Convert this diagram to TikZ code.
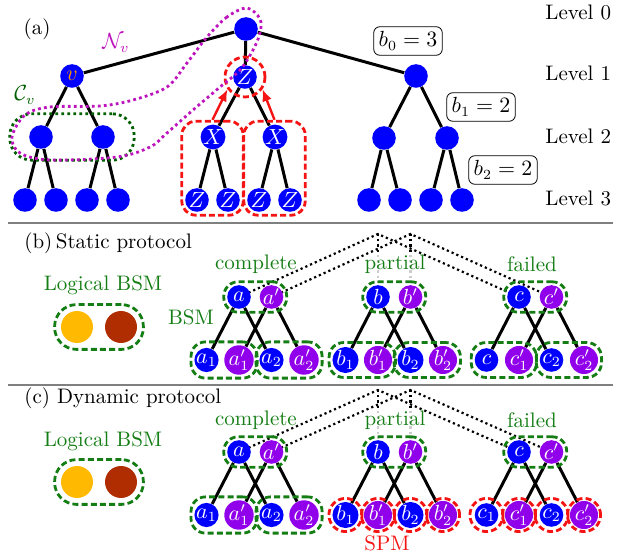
\documentclass[tikz,border=0pt]{standalone}
\usetikzlibrary{arrows.meta,fit,calc,backgrounds}
\definecolor{nblue}{RGB}{0,0,255}
\definecolor{npurp}{RGB}{145,0,235}
\definecolor{ggreen}{RGB}{20,125,20}
\definecolor{cvgreen}{RGB}{0,95,0}
\definecolor{nvmag}{RGB}{190,20,190}
\definecolor{rred}{RGB}{245,20,20}
\definecolor{lorange}{RGB}{255,185,0}
\definecolor{lbrown}{RGB}{175,45,0}
\definecolor{vorange}{RGB}{255,150,0}
\tikzset{
  bnode/.style={circle, fill=nblue, minimum size=11.8pt, inner sep=0pt, text=white},
  pnode/.style={bnode, fill=npurp},
  edge/.style={line width=1.5pt, black},
  gbox/.style={draw=ggreen, line width=1.4pt, dash pattern=on 3pt off 1.6pt, rounded corners=7.2pt, inner sep=1.5pt},
  rbox/.style={draw=rred, line width=1.4pt, dash pattern=on 3pt off 1.6pt},
  roof/.style={line width=1.1pt, dash pattern=on 1.1pt off 1.5pt},
  lbl/.style={text=ggreen, inner sep=0pt},
  txt/.style={inner sep=0pt},
  bval/.style={draw, rounded corners=3pt, inner sep=2.5pt, line width=0.4pt},
  redarrow/.style={rred, line width=1.2pt, -{Latex[length=6pt,width=5pt]}},
}
\newcommand\bsmtree[9]{%
  \node[bnode] (#1t) at (#2+32.5,#3) {$#4$};
  \node[pnode] (#1tp) at (#2+65,#3) {$#5$};
  \node[bnode] (#1b1) at (#2,#3+63) {$#6$};
  \node[pnode] (#1b1p) at (#2+32.5,#3+63) {$#7$};
  \node[bnode] (#1b2) at (#2+65,#3+63) {$#8$};
  \node[pnode] (#1b2p) at (#2+97.5,#3+63) {$#9$};
  \draw[edge] (#1t) -- (#1b1) (#1t) -- (#1b2) (#1tp) -- (#1b1p) (#1tp) -- (#1b2p);
  \node[gbox, fit=(#1t)(#1tp)] (#1gt) {};
}
\begin{document}
\begin{tikzpicture}[x=0.5pt, y=-0.5pt, font=\fontsize{10.5pt}{12.6pt}\selectfont]
\useasboundingbox (0,0) rectangle (644,556);

% ---------- panel (a) ----------
\node[txt] (lab-a) at (37,29) {(a)};
\node[txt, anchor=west] (lv0) at (545,12) {Level 0};
\node[txt, anchor=west] (lv1) at (545,73) {Level 1};
\node[txt, anchor=west] (lv2) at (545,136) {Level 2};
\node[txt, anchor=west] (lv3) at (545,198) {Level 3};
\node[bval] (bv0) at (408,41) {$b_0=3$};
\node[bval] (bv1) at (481,107) {$b_1=2$};
\node[bval] (bv2) at (503,170) {$b_2=2$};

\node[bnode] (r0) at (246,29) {};
\node[bnode, text=vorange] (v) at (72,76) {$v$};
\node[bnode] (z1) at (245,77) {$Z$};
\node[bnode] (w1) at (416,76) {};
\node[bnode] (l2a) at (41,137) {};
\node[bnode] (l2b) at (103,137) {};
\node[bnode] (x1) at (213,137) {$X$};
\node[bnode] (x2) at (275,137) {$X$};
\node[bnode] (r2a) at (384,138) {};
\node[bnode] (r2b) at (447,138) {};
\node[bnode] (l3a) at (25,200) {};
\node[bnode] (l3b) at (56,200) {};
\node[bnode] (l3c) at (87,200) {};
\node[bnode] (l3d) at (118,200) {};
\node[bnode] (z3a) at (197,200) {$Z$};
\node[bnode] (z3b) at (228,200) {$Z$};
\node[bnode] (z3c) at (259,200) {$Z$};
\node[bnode] (z3d) at (290,200) {$Z$};
\node[bnode] (r3a) at (369,200) {};
\node[bnode] (r3b) at (400,200) {};
\node[bnode] (r3c) at (431,200) {};
\node[bnode] (r3d) at (462,200) {};

\draw[edge] (r0) -- (v) (r0) -- (z1) (r0) -- (w1)
  (v) -- (l2a) (v) -- (l2b) (z1) -- (x1) (z1) -- (x2) (w1) -- (r2a) (w1) -- (r2b)
  (l2a) -- (l3a) (l2a) -- (l3b) (l2b) -- (l3c) (l2b) -- (l3d)
  (x1) -- (z3a) (x1) -- (z3b) (x2) -- (z3c) (x2) -- (z3d)
  (r2a) -- (r3a) (r2a) -- (r3b) (r2b) -- (r3c) (r2b) -- (r3d);

\node[rbox, circle, minimum size=20pt, inner sep=0pt] (zcirc) at (z1) {};
\node[rbox, rounded corners=7pt, fit=(x1)(z3a)(z3b), inner sep=1.5pt] (rbl) {};
\node[rbox, rounded corners=7pt, fit=(x2)(z3c)(z3d), inner sep=1.5pt] (rbr) {};
\draw[redarrow] (rbl.north) -- (zcirc.215);
\draw[redarrow] (rbr.north) -- (zcirc.325);

\node[draw=cvgreen, line width=1.4pt, dash pattern=on 1.4pt off 1.6pt, rounded corners=11pt,
      fit=(l2a)(l2b), inner xsep=9.5pt, inner ysep=5.5pt] (cv) {};
\node[txt, text=cvgreen] (cvl) at (25,95) {$\mathcal{C}_v$};
\node[txt, text=nvmag] (nvl) at (116,43) {$\mathcal{N}_v$};
\draw[nvmag, line width=1.4pt, dash pattern=on 1.4pt off 1.6pt]
  plot[smooth cycle, tension=0.55] coordinates {(247,8) (227,17) (207,37) (187,63) (167,87) (133,100)
   (100,106) (50,107) (25,115) (12,137) (20,153) (50,160) (117,157) (150,147) (167,133)
   (193,110) (220,87) (240,70) (253,50) (260,33) (260,19)};

% dividers
\coordinate (d1a) at (8,223); \coordinate (d1b) at (613,223);
\coordinate (d2a) at (8,385); \coordinate (d2b) at (613,385);
\draw[gray, line width=0.6pt] (d1a) -- (d1b);
\draw[gray, line width=0.6pt] (d2a) -- (d2b);

% ---------- panel (b) ----------
\node[txt, anchor=west] (lab-b) at (24,243) {(b)\,Static protocol};
\node[lbl] (lbsm1) at (103,285) {Logical BSM};
\node[circle, fill=lorange, minimum size=16pt, inner sep=0pt] (lo1) at (77,327) {};
\node[circle, fill=lbrown, minimum size=16pt, inner sep=0pt] (lb1) at (121,327) {};
\node[gbox, fit=(lo1)(lb1), inner sep=3pt, rounded corners=11pt] (lg1) {};

\bsmtree{sa}{206.5}{297}{a}{a'}{a_1}{a'_1}{a_2}{a'_2}
\bsmtree{sb}{345.5}{297}{b}{b'}{b_1}{b'_1}{b_2}{b'_2}
\bsmtree{sc}{486.5}{297}{c}{c'}{c}{c'_1}{c_2}{c'_2}
\foreach \p in {sa,sb,sc}{
  \node[gbox, fit=(\p b1)(\p b1p)] (\p gb1) {};
  \node[gbox, fit=(\p b2)(\p b2p)] (\p gb2) {};
}
\node[lbl] (scomp) at (256,264) {complete};
\node[lbl] (spart) at (395,264) {partial};
\node[lbl] (sfail) at (532,264) {failed};
\node[lbl] (sbsm) at (191,317) {BSM};

\coordinate (sp1) at ($(sbt)+(0,-63)$);
\coordinate (sp2) at ($(sbtp)+(0,-63)$);
\begin{scope}[on background layer]
  \draw[roof, gray!40] (sp1) -- (sbt.center);
  \draw[roof, gray!40] (sp2) -- (sbtp.center);
  \draw[roof] (sp1) -- ++(0,18);
  \draw[roof] (sp2) -- ++(0,18);
  \draw[roof] (sat.center) -- (sp1) -- (sct.center);
  \draw[roof] (satp.center) -- (sp2) -- (sctp.center);
\end{scope}

% ---------- panel (c) ----------
\node[txt, anchor=west] (lab-c) at (24,398) {(c) Dynamic protocol};
\node[lbl] (lbsm2) at (103,441) {Logical BSM};
\node[circle, fill=lorange, minimum size=16pt, inner sep=0pt] (lo2) at (77,482) {};
\node[circle, fill=lbrown, minimum size=16pt, inner sep=0pt] (lb2) at (121,482) {};
\node[gbox, fit=(lo2)(lb2), inner sep=3pt, rounded corners=11pt] (lg2) {};

\bsmtree{da}{206.5}{452}{a}{a'}{a_1}{a'_1}{a_2}{a'_2}
\bsmtree{db}{345.5}{452}{b}{b'}{b_1}{b'_1}{b_2}{b'_2}
\bsmtree{dc}{486.5}{452}{c}{c'}{c_1}{c'_1}{c_2}{c'_2}
\node[gbox, fit=(dab1)(dab1p)] (dagb1) {};
\node[gbox, fit=(dab2)(dab2p)] (dagb2) {};
\foreach \n in {dbb1,dbb1p,dbb2,dbb2p,dcb1,dcb1p,dcb2,dcb2p}{
  \draw[rbox] (\n) circle[radius=8.3pt];
}
\node[lbl] (dcomp) at (256,420) {complete};
\node[lbl] (dpart) at (395,420) {partial};
\node[lbl] (dfail) at (532,420) {failed};
\node[txt, text=rred] (spm) at (387,543) {SPM};

\coordinate (dp1) at ($(dbt)+(0,-62)$);
\coordinate (dp2) at ($(dbtp)+(0,-62)$);
\begin{scope}[on background layer]
  \draw[roof, gray!40] (dp1) -- (dbt.center);
  \draw[roof, gray!40] (dp2) -- (dbtp.center);
  \draw[roof] (dp1) -- ++(0,18);
  \draw[roof] (dp2) -- ++(0,18);
  \draw[roof] (dat.center) -- (dp1) -- (dct.center);
  \draw[roof] (datp.center) -- (dp2) -- (dctp.center);
\end{scope}
\end{tikzpicture}
\end{document}
